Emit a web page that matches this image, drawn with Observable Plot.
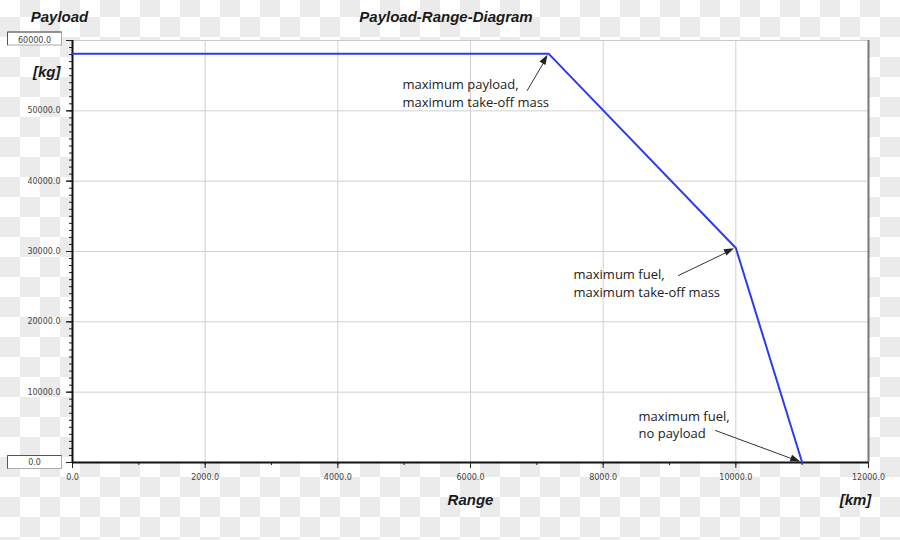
<!DOCTYPE html>
<html>
<head>
<meta charset="utf-8">
<script src="https://cdn.jsdelivr.net/npm/d3@7"></script>
<script src="https://cdn.jsdelivr.net/npm/@observablehq/plot@0.6"></script>
<style>
  html, body { margin: 0; padding: 0; }
  body {
    width: 900px; height: 540px; overflow: hidden;
    background: repeating-conic-gradient(#ebebeb 0 25%, #ffffff 0 50%) 0 -3px / 40px 40px;
  }
</style>
</head>
<body>
<div id="chart"></div>
<script>
// Data: payload-range diagram corner points
const rangeKm = [0, 7180, 10000, 11000];
const payloadKg = [58100, 58100, 30500, 0];

// Annotations
const annLabels = ["maximum payload,\nmaximum take-off mass", "maximum fuel,\nmaximum take-off mass", "maximum fuel,\nno payload"];
const annTextX = [4975, 7553, 8533];
const annTextY = [52600, 25590, 5470];
const annTailX = [6855, 9136, 9694];
const annTailY = [52890, 26590, 4547];
const annHeadIdx = [1, 2, 3];

const xMajor = [0, 2000, 4000, 6000, 8000, 10000, 12000];
const xMinor = d3.range(0, 12001, 1000);
const yMajorInner = [10000, 20000, 30000, 40000, 50000];
const yEnds = [0, 60000];
const yMinor = d3.range(0, 60001, 1000);

const pts = rangeKm.map((r, i) => ({range: r, payload: payloadKg[i]}));
const anns = annLabels.map((t, i) => ({
  text: t, tx: annTextX[i], ty: annTextY[i],
  x1: annTailX[i], y1: annTailY[i],
  x2: rangeKm[annHeadIdx[i]], y2: payloadKg[annHeadIdx[i]]
}));

const fmt = d => d.toFixed(1);
const tickFont = "DejaVu Sans, sans-serif";
const headFont = "'Liberation Sans', Arial, sans-serif";

const plot = Plot.plot({
  width: 900,
  height: 540,
  marginLeft: 72,
  marginRight: 32,
  marginTop: 40,
  marginBottom: 78,
  style: {background: "transparent", fontFamily: tickFont, fontSize: "8px", color: "#444"},
  x: {domain: [0, 12000]},
  y: {domain: [0, 60000]},
  marks: [
    Plot.frame({fill: "white", stroke: "none"}),
    Plot.gridX(xMajor.filter(d => d > 0 && d < 12000), {stroke: "#d0d0d0", strokeOpacity: 1}),
    Plot.gridY(yMajorInner, {stroke: "#d0d0d0", strokeOpacity: 1}),
    Plot.ruleY([60000], {stroke: "#c8c8c8", strokeWidth: 1}),
    Plot.ruleX([12000], {stroke: "#777", strokeWidth: 2}),
    Plot.axisX(xMinor, {tickSize: 3, text: null, stroke: "#222"}),
    Plot.axisX(xMajor, {tickSize: 6, tickPadding: 6, tickFormat: fmt, stroke: "#222", fill: "#444", label: null, fontFamily: tickFont, fontSize: 8}),
    Plot.axisY(yMinor, {tickSize: 3, text: null, stroke: "#222"}),
    Plot.axisY([...yMajorInner, ...yEnds], {tickSize: 6, text: null, stroke: "#222", label: null}),
    Plot.axisY(yMajorInner, {tickSize: 6, tickPadding: 6, tickFormat: fmt, stroke: "#222", fill: "#444", label: null, fontFamily: tickFont, fontSize: 8}),
    Plot.text(yEnds, {y: d => d, text: d => fmt(d), frameAnchor: "left", dx: -38, textAnchor: "middle", fill: "#444", fontFamily: tickFont, fontSize: 8}),
    Plot.ruleX([0], {stroke: "#111", strokeWidth: 2}),
    Plot.ruleY([0], {stroke: "#111", strokeWidth: 2}),
    Plot.line(pts, {x: "range", y: "payload", stroke: "#2a3cf0", strokeWidth: 2}),
    Plot.arrow(anns, {x1: "x1", y1: "y1", x2: "x2", y2: "y2", stroke: "#333", strokeWidth: 1, headLength: 0, insetEnd: 8}),
    Plot.text(anns, {x: "tx", y: "ty", text: "text", textAnchor: "start", lineAnchor: "middle", lineHeight: 1.35, fontFamily: "'Open Sans', sans-serif", fontSize: 13, fill: "#222"}),
    // headings
    Plot.text(["Payload-Range-Diagram"], {frameAnchor: "top", dx: -24.5, dy: -23, textAnchor: "middle", lineAnchor: "middle", fontFamily: headFont, fontSize: 15, fontWeight: "bold", fontStyle: "italic", fill: "#1a1a1a"}),
    Plot.text(["Payload"], {frameAnchor: "top-left", dx: -13, dy: -23, textAnchor: "middle", lineAnchor: "middle", fontFamily: headFont, fontSize: 15, fontWeight: "bold", fontStyle: "italic", fill: "#1a1a1a"}),
    Plot.text(["[kg]"], {frameAnchor: "top-left", dx: -12, dy: 32, textAnchor: "end", lineAnchor: "middle", fontFamily: headFont, fontSize: 15, fontWeight: "bold", fontStyle: "italic", fill: "#1a1a1a"}),
    Plot.text(["Range"], {frameAnchor: "bottom", dx: 0, dy: 38, textAnchor: "middle", lineAnchor: "middle", fontFamily: headFont, fontSize: 15, fontWeight: "bold", fontStyle: "italic", fill: "#1a1a1a"}),
    Plot.text(["[km]"], {frameAnchor: "bottom-right", dx: -13, dy: 38, textAnchor: "middle", lineAnchor: "middle", fontFamily: headFont, fontSize: 15, fontWeight: "bold", fontStyle: "italic", fill: "#1a1a1a"})
  ]
});

document.getElementById("chart").appendChild(plot);

const xs = plot.scale("x");
const ys = plot.scale("y");
const svg = d3.select(plot);

// Filled arrowheads, computed from the scales
anns.forEach(a => {
  const X1 = xs.apply(a.x1), Y1 = ys.apply(a.y1);
  const X2 = xs.apply(a.x2), Y2 = ys.apply(a.y2);
  const ang = Math.atan2(Y2 - Y1, X2 - X1);
  const tipX = X2 - 1.5 * Math.cos(ang), tipY = Y2 - 1.5 * Math.sin(ang);
  const L = 10, W = 3.5;
  const bx = tipX - L * Math.cos(ang), by = tipY - L * Math.sin(ang);
  const px = -Math.sin(ang) * W, py = Math.cos(ang) * W;
  svg.append("path")
    .attr("d", `M${tipX},${tipY}L${bx + px},${by + py}L${bx - px},${by - py}Z`)
    .attr("fill", "#222").attr("stroke", "none");
});

// Boxes around the end labels of the y axis
yEnds.forEach(v => {
  const cy = ys.apply(v) - (v === 60000 ? 1.5 : 0);
  const g = svg.insert("g", ":first-child");
  g.append("rect").attr("x", 7.5).attr("y", cy - 6.5).attr("width", 54).attr("height", 13)
    .attr("fill", "white").attr("stroke", "#aaa");
  g.append("path").attr("d", `M7.5,${cy + 6.5}V${cy - 6.5}H61.5`).attr("fill", "none").attr("stroke", "#555");
});
</script>
</body>
</html>
